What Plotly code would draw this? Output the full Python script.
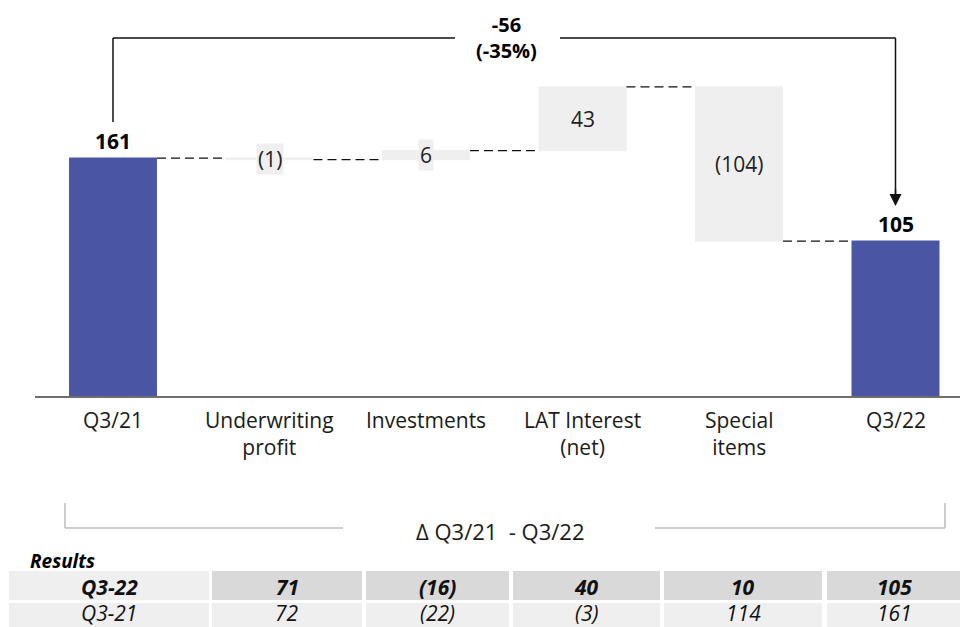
import plotly.graph_objects as go

# ---- data ----
categories = ["Q3/21", "Underwriting profit", "Investments", "LAT Interest (net)", "Special items", "Q3/22"]
category_labels = ["Q3/21", "Underwriting<br>profit", "Investments", "LAT Interest<br>(net)", "Special<br>items", "Q3/22"]
measures = ["absolute", "relative", "relative", "relative", "relative", "total"]
values = [161, -1, 6, 43, -104, 105]

change_abs = -56
change_pct = -35

table_header = "Results"
row_labels = ["Q3-22", "Q3-21"]
row_q3_22 = ["71", "(16)", "40", "10", "105"]
row_q3_21 = ["72", "(22)", "(3)", "114", "161"]

# ---- styling ----
W, H = 960, 627
BLUE = "#4a56a3"
DELTA_GREY = "#efefef"
FONT = "Open Sans"
TXT = "#1a1a1a"

PX_PER_UNIT = 1.484        # vertical scale (pixels per unit)
BASE_PY = 397               # pixel row of zero line
CAT_PX = 156.5              # pixel width of one category
FIRST_CENTER_PX = 113       # pixel column of first category centre

y_top = BASE_PY / PX_PER_UNIT
y_bot = -(H - BASE_PY) / PX_PER_UNIT
x_lo = -FIRST_CENTER_PX / CAT_PX
x_hi = (W - FIRST_CENTER_PX) / CAT_PX


def px(xp):
    return xp / W


def py(yp):
    return 1 - yp / H


def fmt(v):
    return f"({abs(v)})" if v < 0 else f"{v}"


fig = go.Figure()

fig.add_trace(go.Waterfall(
    x=list(range(len(categories))),
    y=values,
    measure=measures,
    width=0.562,
    increasing=dict(marker=dict(color=DELTA_GREY, line=dict(width=0))),
    decreasing=dict(marker=dict(color=DELTA_GREY, line=dict(width=0))),
    totals=dict(marker=dict(color=BLUE, line=dict(width=0))),
    connector=dict(mode="between", line=dict(color="#111111", width=1.3, dash="9px,5px")),
    hoverinfo="skip",
    showlegend=False,
))

annotations = []
shapes = []

# value labels
running = 0
for i, (m, v) in enumerate(zip(measures, values)):
    if m in ("absolute", "total"):
        running = v
        annotations.append(dict(
            x=i, y=v, xref="x", yref="y", text=f"<b>{v}</b>", showarrow=False,
            xanchor="center", yanchor="bottom", yshift=1,
            font=dict(family=FONT, size=21, color="#000000")))
    else:
        mid = running + v / 2
        running += v
        annotations.append(dict(
            x=i, y=mid, xref="x", yref="y", text=fmt(v), showarrow=False,
            xanchor="center", yanchor="middle", bgcolor=DELTA_GREY, borderpad=1,
            font=dict(family=FONT, size=21, color="#222222")))

# category labels
for i, lab in enumerate(category_labels):
    annotations.append(dict(
        x=i, y=py(404), xref="x", yref="paper", text=lab, showarrow=False,
        xanchor="center", yanchor="top", align="center",
        font=dict(family=FONT, size=21, color=TXT)))

# zero line
shapes.append(dict(type="line", xref="paper", yref="paper",
                   x0=px(35), x1=px(960), y0=py(BASE_PY), y1=py(BASE_PY),
                   line=dict(color="#6e6e6e", width=2)))

# change bracket across the top
lw = dict(color="#111111", width=1.5)
top_y = 38
shapes += [
    dict(type="line", xref="x", yref="paper", x0=0, x1=0, y0=py(122), y1=py(top_y), line=lw),
    dict(type="line", xref="paper", yref="paper", x0=px(FIRST_CENTER_PX), x1=px(455), y0=py(top_y), y1=py(top_y), line=lw),
    dict(type="line", xref="paper", yref="paper", x0=px(560), x1=px(FIRST_CENTER_PX + 5 * CAT_PX), y0=py(top_y), y1=py(top_y), line=lw),
    dict(type="line", xref="x", yref="paper", x0=5, x1=5, y0=py(top_y), y1=py(196), line=lw),
]
annotations.append(dict(
    x=5, y=py(206), xref="x", yref="paper", ax=0, ay=-18, showarrow=True,
    arrowhead=2, arrowsize=1.6, arrowwidth=1.5, arrowcolor="#111111", text=""))
annotations.append(dict(
    x=px(507), y=py(37), xref="paper", yref="paper", showarrow=False,
    text=f"<b>{change_abs}<br>({change_pct}%)</b>", align="center",
    xanchor="center", yanchor="middle",
    font=dict(family=FONT, size=20, color="#000000")))

# bottom bracket
gl = dict(color="#bdbdbd", width=1.5)
shapes += [
    dict(type="line", xref="paper", yref="paper", x0=px(65), x1=px(65), y0=py(503), y1=py(528), line=gl),
    dict(type="line", xref="paper", yref="paper", x0=px(65), x1=px(343), y0=py(528), y1=py(528), line=gl),
    dict(type="line", xref="paper", yref="paper", x0=px(655), x1=px(945), y0=py(528), y1=py(528), line=gl),
    dict(type="line", xref="paper", yref="paper", x0=px(945), x1=px(945), y0=py(528), y1=py(503), line=gl),
]
annotations.append(dict(
    x=px(500), y=py(531), xref="paper", yref="paper", showarrow=False,
    xanchor="center", yanchor="middle",
    text="Δ Q3/21  - Q3/22", font=dict(family=FONT, size=22, color=TXT)))

# results table
annotations.append(dict(
    x=px(28), y=py(561), xref="paper", yref="paper", showarrow=False,
    xanchor="left", yanchor="middle",
    text="<b><i>Results</i></b>", font=dict(family=FONT, size=19, color="#000000")))

col_edges = [(9, 209), (212, 362), (366, 509), (513, 660), (664, 822), (827, 962)]
row_edges = [(571, 600), (603, 632)]
rows = [(row_labels[0], row_q3_22), (row_labels[1], row_q3_21)]
for r, ((y0, y1), (label, cells)) in enumerate(zip(row_edges, rows)):
    texts = [label] + cells
    for c, ((x0, x1), t) in enumerate(zip(col_edges, texts)):
        fill = "#d9d9d9" if (r == 0 and c > 0) else "#efefef"
        shapes.append(dict(type="rect", xref="paper", yref="paper",
                           x0=px(x0), x1=px(x1), y0=py(y1), y1=py(y0),
                           fillcolor=fill, line=dict(width=0), layer="below"))
        txt = f"<b><i>{t}</i></b>" if r == 0 else f"<i>{t}</i>"
        annotations.append(dict(
            x=px((x0 + x1) / 2), y=py(587 if r == 0 else 613), xref="paper", yref="paper",
            xanchor="center", yanchor="middle",
            showarrow=False, text=txt, font=dict(family=FONT, size=21, color="#111111")))

fig.update_layout(
    width=W, height=H,
    margin=dict(l=0, r=0, t=0, b=0),
    paper_bgcolor="white", plot_bgcolor="white",
    xaxis=dict(range=[x_lo, x_hi], visible=False, fixedrange=True),
    yaxis=dict(range=[y_bot, y_top], visible=False, fixedrange=True),
    shapes=shapes,
    annotations=annotations,
    showlegend=False,
)

fig.write_html("out.html")
